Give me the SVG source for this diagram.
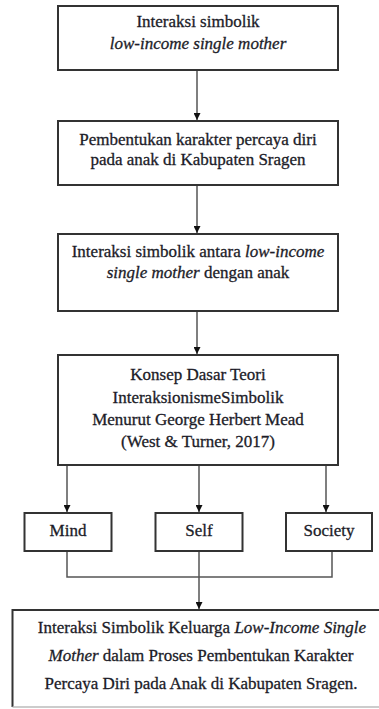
<svg xmlns="http://www.w3.org/2000/svg" width="379" height="709" viewBox="0 0 379 709">
<defs>
<style>
.box{fill:#fff;stroke:#333;stroke-width:2}
.t{font-family:"Liberation Serif","Times New Roman",serif;font-size:17px;fill:#1c1c28;stroke:#1c1c28;stroke-width:0.3;text-anchor:middle}
.i{font-style:italic}
.c{fill:none;stroke:#555;stroke-width:1.5}
</style>
<marker id="ah" viewBox="0 0 10 10" refX="10" refY="5" markerWidth="7" markerHeight="7" markerUnits="userSpaceOnUse" orient="auto">
<path d="M0,0 L10,5 L0,10 z" fill="#111"/>
</marker>
</defs>
<rect width="379" height="709" fill="#fff"/>
<g id="connectors">
<line class="c" x1="197" y1="70" x2="197" y2="120" marker-end="url(#ah)"/>
<line class="c" x1="197" y1="185" x2="197" y2="233" marker-end="url(#ah)"/>
<line class="c" x1="197" y1="311" x2="197" y2="354" marker-end="url(#ah)"/>
<line class="c" x1="67" y1="465" x2="67" y2="512" marker-end="url(#ah)"/>
<line class="c" x1="199" y1="465" x2="199" y2="512" marker-end="url(#ah)"/>
<line class="c" x1="326" y1="465" x2="326" y2="512" marker-end="url(#ah)"/>
<path class="c" d="M67,551 V577 H332 V551"/>
<line class="c" x1="199" y1="551" x2="199" y2="577"/>
<line class="c" x1="199" y1="577" x2="199" y2="609" marker-end="url(#ah)"/>
</g>
<g id="n1">
<rect class="box" x="58" y="6" width="280" height="64"/>
<text class="t" x="198" y="27">Interaksi simbolik</text>
<text class="t i" x="198" y="49">low-income single mother</text>
</g>
<g id="n2">
<rect class="box" x="58" y="121" width="280" height="64"/>
<text class="t" x="198" y="145">Pembentukan karakter percaya diri</text>
<text class="t" x="198" y="165">pada anak di Kabupaten Sragen</text>
</g>
<g id="n3">
<rect class="box" x="58" y="234" width="280" height="77"/>
<text class="t" x="198" y="257">Interaksi simbolik antara <tspan class="i">low-income</tspan></text>
<text class="t" x="198" y="278"><tspan class="i">single mother</tspan> dengan anak</text>
</g>
<g id="n4">
<rect class="box" x="58" y="355" width="280" height="110"/>
<text class="t" x="198" y="380">Konsep Dasar Teori</text>
<text class="t" x="198" y="403">InteraksionismeSimbolik</text>
<text class="t" x="198" y="425">Menurut George Herbert Mead</text>
<text class="t" x="198" y="447">(West &amp; Turner, 2017)</text>
</g>
<g id="mind">
<rect class="box" x="24.5" y="513" width="87" height="38"/>
<text class="t" x="68" y="536">Mind</text>
</g>
<g id="self">
<rect class="box" x="155.5" y="513" width="87" height="38"/>
<text class="t" x="199" y="536">Self</text>
</g>
<g id="society">
<rect class="box" x="286" y="513" width="86" height="38"/>
<text class="t" x="329" y="536">Society</text>
</g>
<g id="result">
<path d="M390,610 H12.5 V707" fill="none" stroke="#333" stroke-width="2"/>
<line x1="12.5" y1="707" x2="379" y2="707" stroke="#bbb" stroke-width="1.5"/>
<text class="t" x="202" y="633">Interaksi Simbolik Keluarga <tspan class="i">Low-Income Single</tspan></text>
<text class="t" x="201" y="661"><tspan class="i">Mother</tspan> dalam Proses Pembentukan Karakter</text>
<text class="t" x="201" y="689">Percaya Diri pada Anak di Kabupaten Sragen.</text>
</g>
</svg>
